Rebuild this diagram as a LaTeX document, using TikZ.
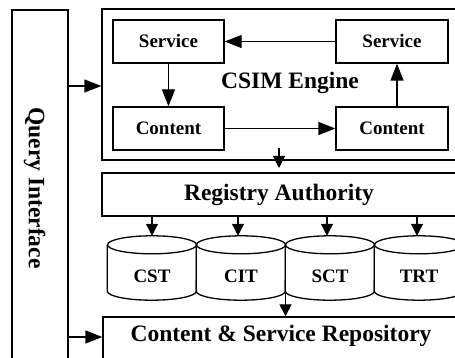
\documentclass[tikz,border=0pt]{standalone}
\usepackage{fontspec}
\setmainfont{Liberation Serif}
\usetikzlibrary{arrows.meta,calc}
\tikzset{
  box/.style={draw, line width=1.3pt, rectangle, inner sep=0pt},
  small/.style={font=\fontsize{19}{22}\selectfont\bfseries},
  big/.style={font=\fontsize{23.5}{27}\selectfont\bfseries},
  arr/.style={line width=1.3pt, -{Triangle[length=17pt,width=13pt]}},
  sarr/.style={line width=1.1pt, -{Triangle[length=12pt,width=12pt]}},
  cyl/.style={draw=none, minimum width=89pt, minimum height=64pt, inner sep=0pt},
  cylline/.style={line width=1.3pt}
}
\begin{document}
\begin{tikzpicture}[x=1pt,y=-1pt]
\useasboundingbox (0,0) rectangle (455,358);
\clip (0,0) rectangle (455,358);
\fill[white] (0,0) rectangle (455,358);
% Query interface
\node[box, minimum width=56pt, minimum height=380pt] (qi) at (40,200) {};
\node[big, rotate=-90] (qilabel) at (34.5,188) {Query Interface};
% CSIM engine
\node[box, minimum width=380pt, minimum height=151pt] (csim) at (292,84.5) {};
\node[big] (csimlabel) at (290,83) {CSIM Engine};
\node[box, small, minimum width=111pt, minimum height=43pt] (s1) at (168.5,41.5) {Service};
\node[box, small, minimum width=111pt, minimum height=43pt] (c1) at (168.5,128.5) {Content};
\node[box, small, minimum width=112pt, minimum height=43pt] (s2) at (392,41.5) {Service};
\node[box, small, minimum width=112pt, minimum height=43pt] (c2) at (392,128.5) {Content};
% Registry
\node[box, minimum width=380pt, minimum height=43pt] (reg) at (292,194.5) {};
\node[big] (reglabel) at (279,195) {Registry Authority};
% cylinders
\node[cyl] (cst) at (152,268) {};
\node[cyl] (cit) at (241,268) {};
\node[cyl] (sct) at (330,268) {};
\node[cyl] (trt) at (419,268) {};
\foreach \n in {cst,cit,sct,trt}{
  \draw[cylline, fill=white] ($(\n.north west)+(0,9)$) -- ($(\n.south west)+(0,-9)$)
     arc[start angle=180, end angle=360, x radius=44.5pt, y radius=9pt]
     -- ($(\n.north east)+(0,9)$);
  \draw[cylline] ($(\n.north)+(0,9)$) ellipse[x radius=44.5pt, y radius=9pt];
}
\node[small] (cstl) at ($(cst.center)+(0,8)$) {CST};
\node[small] (citl) at ($(cit.center)+(0,8)$) {CIT};
\node[small] (sctl) at ($(sct.center)+(0,8)$) {SCT};
\node[small] (trtl) at ($(trt.center)+(0,8)$) {TRT};
% Repository
\node[box, minimum width=380pt, minimum height=70pt] (repo) at (293,352) {};
\node[big] (repolabel) at (281,336) {Content \& Service Repository};
% coordinates
\coordinate (y1) at (0,86);
\coordinate (y2) at (0,337);
\coordinate (sa) at (279,148);
\coordinate (sb) at (279,168);
\coordinate (jn) at (285.5,291);
% arrows
\draw[arr] (qi.east |- y1) -- (csim.west |- y1);
\draw[arr] (qi.east |- y2) -- (repo.west |- y2);
\draw[arr] (s2.west) -- (s1.east);
\draw[arr] (s1.south) -- (c1.north);
\draw[arr] (c1.east) -- (c2.west);
\draw[arr] ($(c2.north)+(5,0)$) -- ($(s2.south)+(5,0)$);
\draw[sarr] (sa) -- (sb);
\draw[sarr] (reg.south -| cst.north) -- (cst.north);
\draw[sarr] ($(reg.south -| cit.north)+(-3,0)$) -- ($(cit.north)+(-3,0)$);
\draw[sarr] ($(reg.south -| sct.north)+(-3,0)$) -- ($(sct.north)+(-3,0)$);
\draw[sarr] ($(reg.south -| trt.north)+(-2,0)$) -- ($(trt.north)+(-2,0)$);
\draw[sarr] (jn) -- (jn |- repo.north);
\end{tikzpicture}
\end{document}
